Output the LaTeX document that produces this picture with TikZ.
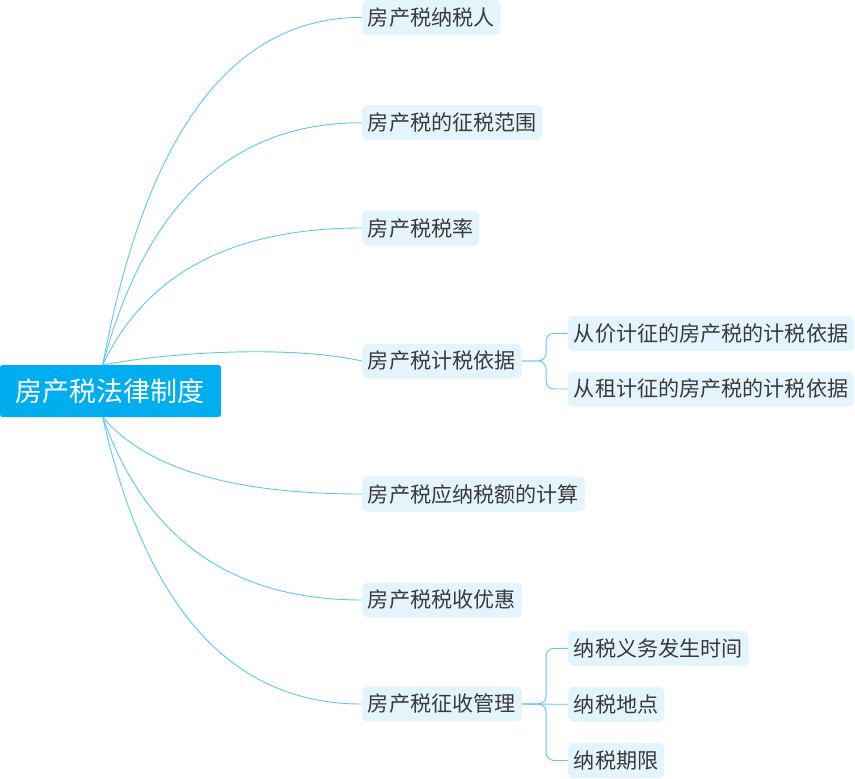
\documentclass[tikz,border=0pt]{standalone}
\usepackage{fontspec}
\newfontfamily\cjk{Noto Sans CJK SC}
\definecolor{linec}{HTML}{5BC8F3}
\definecolor{rootc}{HTML}{00AEEF}
\definecolor{boxc}{HTML}{E4F4FC}
\definecolor{txtc}{HTML}{3A3A3A}
\begin{document}
\begin{tikzpicture}[x=1pt,y=-1pt,
  rootbox/.style={fill=rootc,rounded corners=2.5pt,minimum width=221pt,minimum height=52pt,inner sep=0pt,text=white,font=\cjk\fontsize{27}{30}\selectfont},
  topicbox/.style={fill=boxc,rounded corners=6pt,minimum height=35pt,inner xsep=6pt,inner ysep=0pt,anchor=west,text=txtc,font=\cjk\fontsize{21.1}{24}\selectfont},
  conn/.style={draw=linec,line width=0.9pt},
  treeconn/.style={draw=linec,line width=0.9pt,rounded corners=8pt}]
\useasboundingbox (0,0) rectangle (855,779);
\node[rootbox] (root) at (110.5,391) {房产税法律制度};
\coordinate (rt) at (102.7,365);
\coordinate (rb) at (102.7,417);
\node[topicbox] (b1) at (361.7,17.4) {房产税纳税人};
\node[topicbox] (b2) at (361.7,122.7) {房产税的征税范围};
\node[topicbox] (b3) at (361.7,228) {房产税税率};
\node[topicbox] (b4) at (361.7,361) {房产税计税依据};
\node[topicbox] (b5) at (361.7,494) {房产税应纳税额的计算};
\node[topicbox] (b6) at (361.7,600) {房产税税收优惠};
\node[topicbox] (b7) at (361.7,704) {房产税征收管理};
\node[topicbox] (c1) at (567.7,333.3) {从价计征的房产税的计税依据};
\node[topicbox] (c2) at (567.7,389) {从租计征的房产税的计税依据};
\node[topicbox] (d1) at (567.7,648.3) {纳税义务发生时间};
\node[topicbox] (d2) at (567.7,704.3) {纳税地点};
\node[topicbox] (d3) at (567.7,760.5) {纳税期限};
\draw[conn] (rt) .. controls (141.5,156.4) and (219.3,17.4) .. (b1.west);
\draw[conn] (rt) .. controls (141.5,219.6) and (219.3,122.7) .. (b2.west);
\draw[conn] (rt) .. controls (141.5,282.8) and (219.3,228) .. (b3.west);
\draw[conn] (rt) .. controls (170,352) and (290,345) .. (b4.west);
\draw[conn] (rb) .. controls (141.5,463.2) and (219.3,494) .. (b5.west);
\draw[conn] (rb) .. controls (141.5,526.8) and (219.3,600) .. (b6.west);
\draw[conn] (rb) .. controls (141.5,589.2) and (219.3,704) .. (b7.west);
\draw[treeconn] (b4.east) -- ++(24.3,0) |- (c1.west);
\draw[treeconn] (b4.east) -- ++(24.3,0) |- (c2.west);
\draw[treeconn] (b7.east) -- ++(24.3,0) |- (d1.west);
\draw[treeconn] (b7.east) -- (d2.west);
\draw[treeconn] (b7.east) -- ++(24.3,0) |- (d3.west);
\end{tikzpicture}
\end{document}
